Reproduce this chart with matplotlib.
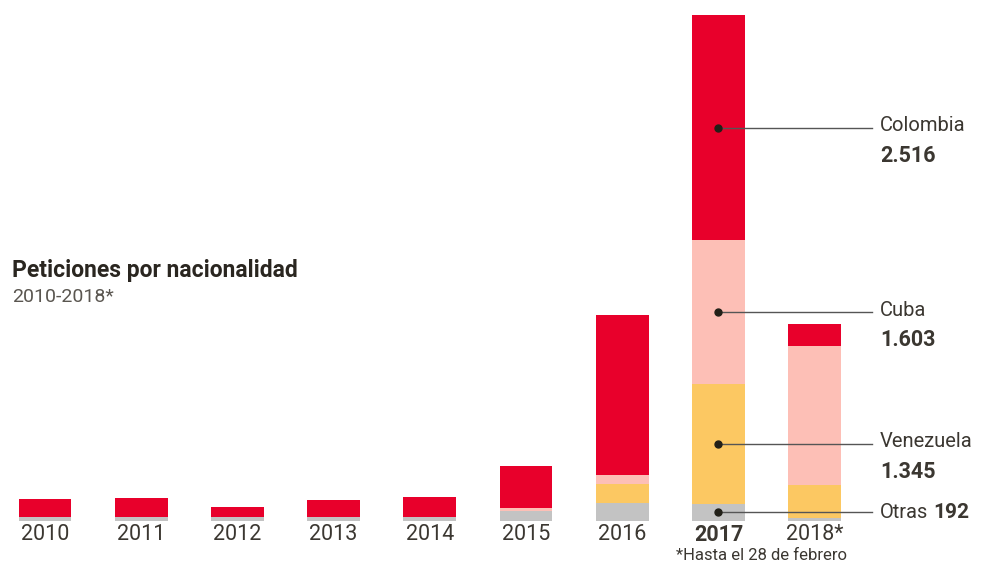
import matplotlib.pyplot as plt

########  data  ########

years = ["2010", "2011", "2012", "2013", "2014", "2015", "2016", "2017", "2018*"]
otras = [40, 40, 40, 40, 40, 110, 201, 192, 37]
venezuela = [0, 0, 0, 0, 0, 0, 217, 1345, 365]
cuba = [0, 0, 0, 0, 0, 30, 93, 1603, 1554]
colombia = [210, 215, 115, 190, 225, 477, 1789, 2516, 250]

series = [("Otras", otras, "#c3c3c3"),
          ("Venezuela", venezuela, "#fcc862"),
          ("Cuba", cuba, "#fdbfb6"),
          ("Colombia", colombia, "#e8002b")]

txt = "#3b3731"
plt.rcParams["font.family"] = ["Roboto", "DejaVu Sans"]

########  plot  ########

fig = plt.figure(figsize=(9.91, 5.66), dpi=100)
ax = fig.add_axes([0, 45 / 566, 1, 521 / 566])

x = list(range(len(years)))
bottom = [0] * len(years)
mids = {}
for name, vals, col in series:
    ax.bar(x, vals, bottom=bottom, width=0.55, color=col, linewidth=0)
    mids[name] = bottom[7] + vals[7] / 2
    bottom = [b + v for b, v in zip(bottom, vals)]

ax.set_xlim(-0.468, 9.834)
ax.set_ylim(0, 5825)
for s in ax.spines.values():
    s.set_visible(False)
ax.set_yticks([])
ax.set_xticks(x)
ax.set_xticklabels(years, fontsize=15.5, color=txt)
ax.tick_params(axis="x", length=0, pad=2)
ax.get_xticklabels()[7].set_fontweight("bold")

# callouts on the 2017 bar
for name, vals, col in series:
    y = mids[name]
    val = f"{vals[7]:,}".replace(",", ".")
    ax.plot([7, 8.6], [y, y], color="#555555", lw=1, zorder=3)
    ax.plot(7, y, "o", color="#222018", ms=5, zorder=4)
    if name == "Otras":
        ax.text(8.68, y, "Otras", fontsize=14.5, color=txt, va="center")
        ax.text(9.23, y, val, fontsize=15, color=txt, va="center", fontweight="bold")
    else:
        ax.text(8.68, y + 20, name, fontsize=14.5, color=txt, va="center")
        ax.text(8.68, y - 320, val, fontsize=15.5, color=txt, va="center", fontweight="bold")

fig.text(12 / 991, 1 - 270 / 566, "Peticiones por nacionalidad", fontsize=16.5,
         fontweight="bold", color="#2a2620", va="center")
fig.text(12 / 991, 1 - 297 / 566, "2010-2018*", fontsize=14, color="#5a5650", va="center")
fig.text(761 / 991, 1 - 556 / 566, "*Hasta el 28 de febrero", fontsize=12, color=txt,
         ha="center", va="center")

plt.savefig("out.png", dpi=100)
plt.close()
